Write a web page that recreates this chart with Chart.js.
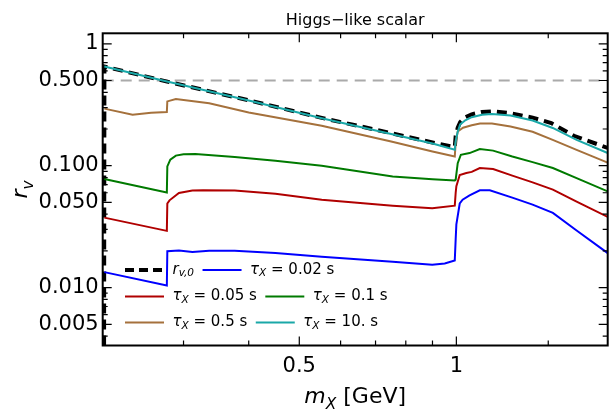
<!DOCTYPE html>
<html>
<head>
<meta charset="utf-8">
<script src="https://cdn.jsdelivr.net/npm/chart.js@4.4.0/dist/chart.umd.min.js"></script>
<style>
    body { margin: 0; background: #ffffff; }
    canvas { display: block; }
</style>
</head>
<body>
<canvas id="chart" width="616" height="413"></canvas>
<script>
// Data (mass in GeV, r_v dimensionless)
const massRv0 = [0.2112, 0.2116, 0.279, 0.40, 0.552, 0.75, 0.90, 0.993, 0.997, 1.006, 1.017, 1.04, 1.07, 1.12, 1.17, 1.27, 1.40, 1.52, 1.68, 1.95];
const rv0     = [0.001, 0.652, 0.49, 0.344, 0.247, 0.185, 0.155, 0.142, 0.175, 0.205, 0.228, 0.25, 0.264, 0.276, 0.279, 0.27, 0.248, 0.224, 0.176, 0.14];

const mass002 = [0.2115, 0.2787, 0.2793, 0.294, 0.312, 0.336, 0.376, 0.45, 0.552, 0.755, 0.899, 0.95, 0.993, 0.997, 1.0, 1.015, 1.028, 1.06, 1.109, 1.159, 1.284, 1.40, 1.531, 1.70, 1.95];
const rv002   = [0.0134, 0.0104, 0.0199, 0.0202, 0.0196, 0.0201, 0.0201, 0.0192, 0.0179, 0.0163, 0.0154, 0.0158, 0.0167, 0.025, 0.033, 0.049, 0.0526, 0.057, 0.0628, 0.0628, 0.0545, 0.048, 0.041, 0.0294, 0.0192];

const mass005 = [0.2115, 0.2787, 0.2793, 0.282, 0.294, 0.312, 0.327, 0.376, 0.45, 0.552, 0.755, 0.899, 0.993, 0.997, 1.0, 1.015, 1.045, 1.07, 1.109, 1.176, 1.28, 1.40, 1.531, 1.70, 1.95];
const rv005   = [0.0375, 0.0292, 0.049, 0.052, 0.0597, 0.0625, 0.0628, 0.0625, 0.059, 0.0526, 0.047, 0.0447, 0.047, 0.06, 0.068, 0.084, 0.087, 0.089, 0.0958, 0.0938, 0.083, 0.073, 0.0636, 0.0508, 0.038];

const mass01  = [0.2115, 0.2787, 0.2793, 0.283, 0.29, 0.30, 0.316, 0.376, 0.45, 0.552, 0.755, 0.90, 0.993, 0.997, 1.006, 1.02, 1.06, 1.109, 1.176, 1.28, 1.40, 1.531, 1.70, 1.95];
const rv01    = [0.0778, 0.0604, 0.0986, 0.112, 0.121, 0.124, 0.125, 0.118, 0.11, 0.100, 0.0817, 0.0775, 0.0758, 0.0769, 0.105, 0.123, 0.127, 0.137, 0.133, 0.119, 0.107, 0.0958, 0.079, 0.0616];

const mass05  = [0.2115, 0.2396, 0.26, 0.2787, 0.2793, 0.29, 0.336, 0.40, 0.552, 0.75, 0.90, 0.993, 0.997, 1.006, 1.03, 1.07, 1.11, 1.17, 1.27, 1.40, 1.53, 1.70, 1.95];
const rv05    = [0.294, 0.262, 0.272, 0.276, 0.337, 0.352, 0.325, 0.273, 0.213, 0.158, 0.131, 0.119, 0.155, 0.191, 0.205, 0.215, 0.222, 0.222, 0.21, 0.19, 0.163, 0.135, 0.106];

const mass10  = [0.2115, 0.279, 0.40, 0.552, 0.75, 0.90, 0.993, 0.997, 1.006, 1.017, 1.04, 1.07, 1.12, 1.17, 1.27, 1.40, 1.53, 1.70, 1.95];
const rv10    = [0.652, 0.49, 0.343, 0.245, 0.182, 0.152, 0.135, 0.16, 0.19, 0.218, 0.236, 0.25, 0.262, 0.266, 0.258, 0.235, 0.204, 0.163, 0.127];

const tauLabels = ['0.02', '0.05', '0.1', '0.5', '10.'];
const refLevel = 0.5;

// Axis ranges and ticks
const xRange = [0.21, 1.95];
const yRange = [0.00335, 1.22];
const xMajorTicks = [0.5, 1];
const xMinorTicks = [0.3, 0.4, 0.6, 0.7, 0.8, 0.9, 1.5];
const xTickLabels = { 0.5: '0.5', 1: '1' };
const yMajorTicks = [0.005, 0.01, 0.05, 0.1, 0.5, 1];
const yMinorTicks = [0.004, 0.006, 0.007, 0.008, 0.009, 0.02, 0.03, 0.04, 0.06, 0.07, 0.08, 0.09,
                     0.2, 0.3, 0.4, 0.6, 0.7, 0.8, 0.9];
const yTickLabels = { 0.005: '0.005', 0.01: '0.010', 0.05: '0.050', 0.1: '0.100', 0.5: '0.500', 1: '1' };

const FONT = "'DejaVu Sans', Verdana, sans-serif";

function toPoints(xs, ys) {
    return xs.map((x, i) => ({ x: x, y: ys[i] }));
}

function lineSet(label, xs, ys, color, order, extra) {
    return Object.assign({
        label: label,
        data: toPoints(xs, ys),
        borderColor: color,
        borderWidth: 2,
        pointRadius: 0,
        tension: 0,
        showLine: true,
        order: order
    }, extra || {});
}

const datasets = [
    lineSet('ref', xRange, [refLevel, refLevel], '#aaaaaa', 10, { borderDash: [11, 7] }),
    lineSet('rv0', massRv0, rv0, '#000000', 6, { borderWidth: 4, borderDash: [10, 6] }),
    lineSet(tauLabels[0], mass002, rv002, '#0000ff', 5),
    lineSet(tauLabels[1], mass005, rv005, '#b00000', 4),
    lineSet(tauLabels[2], mass01, rv01, '#007a00', 3),
    lineSet(tauLabels[3], mass05, rv05, '#a5713c', 2),
    lineSet(tauLabels[4], mass10, rv10, '#1aa8a8', 1)
];

// Draw text made of parts (italic / subscript), returns the width
function drawRich(ctx, x, y, parts, size, measureOnly) {
    let cx = x;
    parts.forEach(p => {
        const fs = p.sub ? size * 0.7 : size;
        ctx.font = (p.italic ? 'italic ' : '') + fs + 'px ' + FONT;
        if (!measureOnly) {
            ctx.fillText(p.t, cx, y + (p.sub ? size * 0.25 : 0));
        }
        cx += ctx.measureText(p.t).width;
    });
    return cx - x;
}

function tauParts(v) {
    return [{ t: 'τ', italic: true }, { t: 'X', italic: true, sub: true }, { t: ' = ' + v + ' s' }];
}

const decorPlugin = {
    id: 'decor',
    afterDraw(chart) {
        const ctx = chart.ctx;
        const area = chart.chartArea;
        const xs = chart.scales.x;
        const ys = chart.scales.y;

        ctx.save();
        ctx.strokeStyle = '#000000';
        ctx.fillStyle = '#000000';

        // inner ticks on all four sides
        ctx.lineWidth = 1.2;
        const tick = (vals, len) => {
            vals.forEach(v => {
                const px = xs.getPixelForValue(v);
                ctx.beginPath();
                ctx.moveTo(px, area.bottom); ctx.lineTo(px, area.bottom - len);
                ctx.moveTo(px, area.top); ctx.lineTo(px, area.top + len);
                ctx.stroke();
            });
        };
        tick(xMajorTicks, 9);
        tick(xMinorTicks, 5);
        const ytick = (vals, len) => {
            vals.forEach(v => {
                const py = ys.getPixelForValue(v);
                ctx.beginPath();
                ctx.moveTo(area.left, py); ctx.lineTo(area.left + len, py);
                ctx.moveTo(area.right, py); ctx.lineTo(area.right - len, py);
                ctx.stroke();
            });
        };
        ytick(yMajorTicks, 9);
        ytick(yMinorTicks, 5);

        // frame
        ctx.lineWidth = 2;
        ctx.strokeRect(area.left, area.top, area.right - area.left, area.bottom - area.top);

        // title
        ctx.textAlign = 'center';
        ctx.textBaseline = 'middle';
        ctx.font = '16px ' + FONT;
        ctx.fillText('Higgs−like scalar', (area.left + area.right) / 2, 21);

        // x axis title
        ctx.textAlign = 'left';
        ctx.textBaseline = 'alphabetic';
        const xParts = [{ t: 'm', italic: true }, { t: 'X', italic: true, sub: true }, { t: ' [GeV]' }];
        const xw = drawRich(ctx, 0, 0, xParts, 22, true);
        drawRich(ctx, (area.left + area.right) / 2 - xw / 2, 403, xParts, 22);

        // y axis title (rotated)
        const yParts = [{ t: 'r', italic: true }, { t: 'v', italic: true, sub: true }];
        const yw = drawRich(ctx, 0, 0, yParts, 22, true);
        ctx.save();
        ctx.translate(27, (area.top + area.bottom) / 2);
        ctx.rotate(-Math.PI / 2);
        drawRich(ctx, -yw / 2, 0, yParts, 22);
        ctx.restore();

        // legend, three rows inside the plot
        const ds = chart.data.datasets;
        const rows = [[1, 2], [3, 4], [5, 6]];
        const rowY = [270, 296.5, 322.5];
        const fs = 15;
        rows.forEach((row, r) => {
            let x = 125;
            const y = rowY[r];
            row.forEach(i => {
                const d = ds[i];
                ctx.strokeStyle = d.borderColor;
                ctx.lineWidth = d.borderWidth;
                ctx.setLineDash(i === 1 ? [9, 5] : []);
                ctx.beginPath();
                ctx.moveTo(x, y); ctx.lineTo(x + 39, y);
                ctx.stroke();
                ctx.setLineDash([]);
                x += 47.5;
                ctx.fillStyle = '#000000';
                ctx.textBaseline = 'middle';
                const parts = i === 1
                    ? [{ t: 'r', italic: true }, { t: 'v,0', italic: true, sub: true }]
                    : tauParts(d.label);
                x += drawRich(ctx, x, y, parts, fs) + 8.5;
            });
        });
        ctx.restore();
    }
};

const chart = new Chart(document.getElementById('chart').getContext('2d'), {
    type: 'scatter',
    data: { datasets: datasets },
    options: {
        responsive: false,
        animation: false,
        devicePixelRatio: 1,
        layout: { padding: { left: 0, right: 8.3, top: 33.3, bottom: 0 } },
        plugins: { legend: { display: false }, tooltip: { enabled: false }, title: { display: false } },
        scales: {
            x: {
                type: 'logarithmic',
                min: xRange[0],
                max: xRange[1],
                afterFit: s => { s.height = 67.5; },
                afterBuildTicks: s => { s.ticks = xMajorTicks.map(v => ({ value: v })); },
                grid: { display: false, drawTicks: false },
                border: { display: false },
                ticks: {
                    autoSkip: false,
                    maxRotation: 0,
                    padding: 8,
                    color: '#000000',
                    font: { family: FONT, size: 21 },
                    callback: v => xTickLabels[v] || ''
                }
            },
            y: {
                type: 'logarithmic',
                min: yRange[0],
                max: yRange[1],
                afterFit: s => { s.width = 102.7; },
                afterBuildTicks: s => { s.ticks = yMajorTicks.map(v => ({ value: v })); },
                grid: { display: false, drawTicks: false },
                border: { display: false },
                ticks: {
                    autoSkip: false,
                    padding: 4,
                    color: '#000000',
                    font: { family: FONT, size: 21 },
                    callback: v => yTickLabels[v] || ''
                }
            }
        }
    },
    plugins: [decorPlugin]
});
</script>
</body>
</html>
